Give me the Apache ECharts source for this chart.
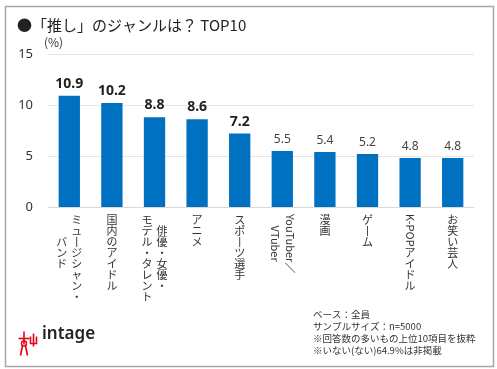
<!DOCTYPE html>
<html><head><meta charset="utf-8">
<script src="https://cdn.jsdelivr.net/npm/echarts@6/dist/echarts.min.js"></script>
<style>html,body{margin:0;padding:0;background:#fff}#c{width:497px;height:369px}</style>
</head><body><div id="c"></div>
<script>
const titleText = '●「推し」のジャンルは？ TOP10';
const unitText = '(%)';
const categories = ['ミュージシャン・\nバンド','国内のアイドル','俳優・女優・\nモデル・タレント','アニメ','スポーツ選手','YouTuber／\nVTuber','漫画','ゲーム','K-POPアイドル','お笑い芸人'];
const values = [10.9, 10.2, 8.8, 8.6, 7.2, 5.5, 5.4, 5.2, 4.8, 4.8];
const yMin = 0, yMax = 15, yStep = 5;
const notes = ['ベース：全員','サンプルサイズ：n=5000','※回答数の多いもの上位10項目を抜粋','※いない(ない)64.9%は非掲載'];
const brand = 'intage';

const JP = '"Noto Sans CJK JP", "Noto Sans", sans-serif';
const latinRe = /^[A-Za-z0-9\-／]+/;

function columnCells(col) {
  const cells = [];
  let s = col;
  while (s.length) {
    const m = s.match(latinRe);
    if (m) {
      const n = Math.max(1, Math.round(m[0].length * 0.62));
      for (let i = 0; i < n; i++) cells.push('　');
      s = s.slice(m[0].length);
    } else {
      let ch = s[0];
      if (ch === 'ー') ch = '丨';
      cells.push(ch);
      s = s.slice(1);
    }
  }
  return cells;
}
function uprightLabel(cat) {
  const cols = cat.split('\n').map(columnCells);
  const max = Math.max(...cols.map(c => c.length));
  const padded = cols.map(c => {
    const top = Math.floor((max - c.length) / 2);
    const arr = [];
    for (let i = 0; i < top; i++) arr.push('　');
    arr.push(...c);
    while (arr.length < max) arr.push('　');
    return arr;
  });
  const order = padded.slice().reverse();
  const rows = [];
  for (let r = 0; r < max; r++) {
    rows.push(order.map(c => '{c|' + c[r] + '}').join('{g| }'));
  }
  if (rows.every(r => /^(\{c\|　\}|\{g\| \})+$/.test(r))) return '';
  return rows.join('\n');
}
function rotatedLabel(cat) {
  const cols = cat.split('\n');
  const parts = [];
  for (const col of cols) {
    const m = col.match(latinRe);
    if (m) parts.push('{c|' + m[0] + '}');
  }
  return parts.join('\n');
}

const chart = echarts.init(document.getElementById('c'), null, {renderer: 'canvas'});
chart.setOption({
  animation: false,
  title: {
    text: titleText, left: 12, top: 13,
    textStyle: {fontSize: 15, fontWeight: 'normal', color: '#222', fontFamily: JP}
  },
  grid: {left: 48, right: 23, top: 54, bottom: 162, containLabel: false},
  xAxis: [{
    type: 'category', data: categories,
    axisLine: {lineStyle: {color: '#d9d9d9', width: 1}},
    axisTick: {show: false},
    axisLabel: {
      interval: 0, margin: 7, color: '#333', verticalAlign: 'top',
      formatter: v => uprightLabel(v),
      rich: {
        c: {fontSize: 11, lineHeight: 11, fontFamily: JP, color: '#333'},
        g: {fontSize: 11, lineHeight: 11, width: 4, fontFamily: JP}
      }
    }
  }, {
    type: 'category', data: categories, position: 'bottom',
    axisLine: {show: false}, axisTick: {show: false}, splitLine: {show: false},
    axisLabel: {
      interval: 0, margin: 7, rotate: -90, align: 'left', verticalAlign: 'middle',
      formatter: v => rotatedLabel(v),
      rich: {
        c: {fontSize: 11, lineHeight: 15, fontFamily: JP, color: '#333', align: 'center'}
      }
    }
  }],
  yAxis: {
    type: 'value', min: yMin, max: yMax, interval: yStep,
    axisLine: {show: false}, axisTick: {show: false},
    splitLine: {lineStyle: {color: '#e6e6e6', width: 1}},
    axisLabel: {margin: 15, fontSize: 13, color: '#333', fontFamily: '"Noto Sans", sans-serif'}
  },
  series: [{
    type: 'bar', xAxisIndex: 0, barWidth: '50%',
    itemStyle: {color: '#0070C0'},
    label: {show: true, position: 'top', distance: 5, fontFamily: '"Noto Sans", sans-serif',
      formatter: p => p.value.toFixed(1)},
    data: values.map((v, i) => ({
      value: v,
      label: i < 5 ? {fontSize: 14, fontWeight: 'bold', color: '#222'}
                   : {fontSize: 12, fontWeight: 'normal', color: '#444'}
    }))
  }],
  graphic: [
    {type: 'rect', left: 3, top: 4, shape: {width: 488, height: 360},
     style: {fill: 'none', stroke: '#a6a6a6', lineWidth: 1.5}, silent: true, z: -1},
    {type: 'text', left: 44, top: 36,
     style: {text: unitText, fill: '#333', font: '12px ' + JP}},
    {type: 'text', left: 313, top: 309,
     style: {text: notes.join('\n'), font: '9.5px ' + JP, lineHeight: 11.7, fill: '#333'}},
    {type: 'text', left: 42, top: 326,
     style: {text: brand, font: '600 17px "Noto Sans", sans-serif', fill: '#222'}},
    {type: 'group', left: 16, top: 329, children: [
      {type: 'line', shape: {x1: 0, y1: 7, x2: 11, y2: 7}, style: {stroke: '#e60012', lineWidth: 1.6}},
      {type: 'line', shape: {x1: 5.5, y1: 0, x2: 5.5, y2: 13}, style: {stroke: '#e60012', lineWidth: 1.6}},
      {type: 'circle', shape: {cx: 5.5, cy: 12, r: 2.5}, style: {fill: 'none', stroke: '#e60012', lineWidth: 1.4}},
      {type: 'line', shape: {x1: 4, y1: 14, x2: 2, y2: 24}, style: {stroke: '#e60012', lineWidth: 1.6}},
      {type: 'line', shape: {x1: 7, y1: 14, x2: 9, y2: 24}, style: {stroke: '#e60012', lineWidth: 1.6}},
      {type: 'polyline', shape: {points: [[12, 5], [12, 12], [18, 12], [18, 5]]}, style: {stroke: '#e60012', lineWidth: 1.6, fill: 'none'}},
      {type: 'line', shape: {x1: 15, y1: 2, x2: 15, y2: 15}, style: {stroke: '#e60012', lineWidth: 1.6}}
    ]}
  ]
});
</script></body></html>
